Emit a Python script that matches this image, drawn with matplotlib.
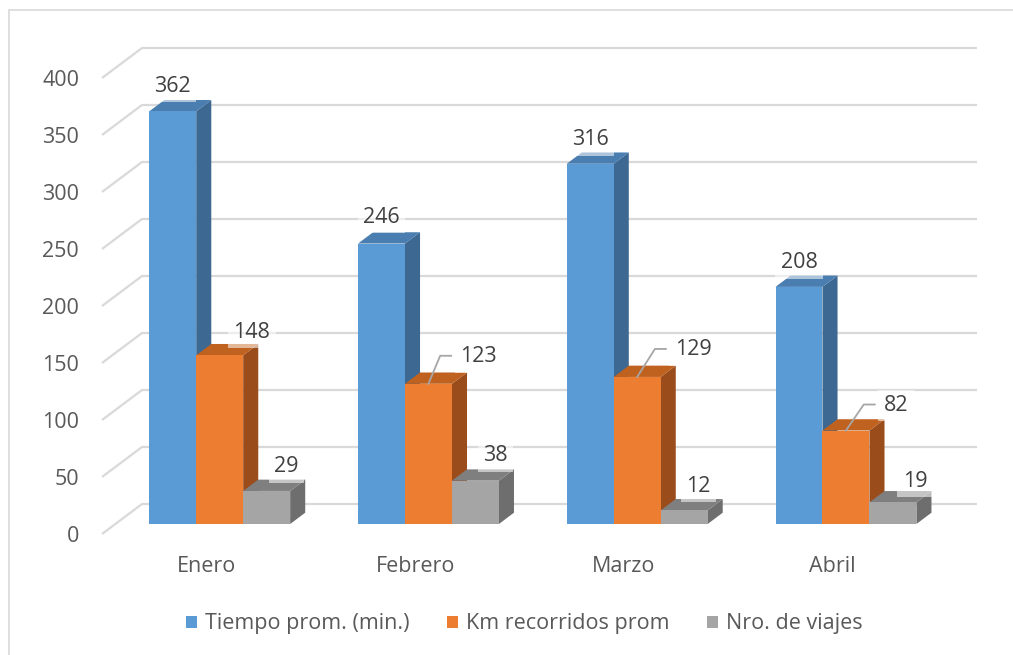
import matplotlib
matplotlib.use("Agg")
import matplotlib.pyplot as plt
from matplotlib.patches import Polygon, Patch, Rectangle

months = ["Enero", "Febrero", "Marzo", "Abril"]
series = ["Tiempo prom. (min.)", "Km recorridos prom", "Nro. de viajes"]
tiempo = [362, 246, 316, 208]
km = [148, 123, 129, 82]
viajes = [29, 38, 12, 19]
y_ticks = [0, 50, 100, 150, 200, 250, 300, 350, 400]

# face colours per series: front, top, side
_COLORS = [("#5B9BD5", "#4A7DB0", "#3C6892"),
           ("#ED7D31", "#C0621F", "#9A4C1B"),
           ("#A5A5A5", "#7F7F7F", "#6E6E6E")]
_GRID, _TXT, _LBL = "#D9D9D9", "#595959", "#404040"

# label offsets in pixels from the front-top centre of each bar (right, down), leader line flag
_LBL_OFF = [[(0, -25, False), (0, -26, False), (0, -24, False), (0, -24, False)],
            [(32, -23, False), (50, -27, True), (56, -27, True), (50, -25, True)],
            [(20, -24, False), (20, -25, False), (14, -24, False), (22, -21, False)]]

plt.rcParams["font.family"] = ["Open Sans", "DejaVu Sans"]
FS = 15.5

FIG_W, FIG_H = 1013, 655
fig = plt.figure(figsize=(FIG_W / 100, FIG_H / 100), dpi=100)
ax = fig.add_axes([102 / FIG_W, 121 / FIG_H, 835 / FIG_W, 456 / FIG_H])
ax.set_xlim(-0.5, 3.5)
ax.set_ylim(0, 400)

# pixels per data unit, to turn the fake 3d depth into data offsets
p0 = ax.transData.transform((0, 0))
sx = ax.transData.transform((1, 0))[0] - p0[0]
sy = ax.transData.transform((0, 1))[1] - p0[1]
DX, DY = 40 / sx, 30 / sy


def proj(x, y, d):
    return x + d * DX, y + d * DY


# back wall gridlines + left floor diagonals
for t in y_ticks:
    pts = [proj(-0.5, t, 0), proj(-0.5, t, 1), proj(3.5, t, 1)]
    ax.plot([p[0] for p in pts], [p[1] for p in pts], color=_GRID, lw=1.6,
            clip_on=False, zorder=1, solid_capstyle="butt")

bw = 0.225
d0, d1 = 1 / 3, 0.71
values = [tiempo, km, viajes]
z = 2.0
for i in range(len(months)):
    for j, vals in enumerate(values):
        v = vals[i]
        xc = i + (j - 1) * bw
        x0, x1 = xc - bw / 2, xc + bw / 2
        front, top, side = _COLORS[j]
        side_poly = [proj(x1, 0, d0), proj(x1, 0, d1), proj(x1, v, d1), proj(x1, v, d0)]
        top_poly = [proj(x0, v, d0), proj(x1, v, d0), proj(x1, v, d1), proj(x0, v, d1)]
        ax.add_patch(Polygon(side_poly, closed=True, fc=side, ec="none", zorder=z, clip_on=False))
        ax.add_patch(Polygon(top_poly, closed=True, fc=top, ec="none", zorder=z + 0.001, clip_on=False))
        ax.bar(xc + d0 * DX, v, bw, bottom=d0 * DY, color=front, edgecolor="none",
               zorder=z + 0.002, clip_on=False)
        z += 0.01

# data labels
for j, vals in enumerate(values):
    for i, v in enumerate(vals):
        xc = i + (j - 1) * bw
        anchor = proj(xc, v, d0)
        dx, dy, leader = _LBL_OFF[j][i]
        ax.annotate(str(v), xy=anchor, xytext=(dx, -dy), textcoords="offset pixels",
                    ha="center", va="center", fontsize=FS, color=_LBL, zorder=10,
                    annotation_clip=False,
                    bbox=dict(boxstyle="square,pad=0.25", fc="white", ec="none", alpha=0.55))
        if leader:
            half = len(str(v)) * 6.1
            ex = dx - half - 9
            xs = [anchor[0], anchor[0] + (ex - 11) / sx, anchor[0] + ex / sx]
            ys = [anchor[1], anchor[1] - (dy - 1) / sy, anchor[1] - (dy - 1) / sy]
            ax.plot(xs, ys, color="#A6A6A6", lw=1.3, zorder=11, clip_on=False)

ax.set_yticks(y_ticks)
ax.set_xticks(range(len(months)), months)
ax.tick_params(axis="y", length=0, pad=16.5, labelsize=FS, labelcolor=_TXT)
ax.tick_params(axis="x", length=0, pad=16, labelsize=FS, labelcolor=_TXT)
for spine in ax.spines.values():
    spine.set_visible(False)
ax.patch.set_alpha(0)

handles = [Patch(facecolor=c[0], edgecolor="none") for c in _COLORS]
fig.legend(handles, series, loc="center", bbox_to_anchor=(524 / FIG_W, 1 - 624 / FIG_H),
           ncol=3, frameon=False, fontsize=FS, handlelength=0.53, handleheight=0.53,
           handletextpad=0.35, columnspacing=1.75, labelcolor=_TXT)

fig.add_artist(Rectangle((9 / FIG_W, -0.05), 1.0, 1.05 - 10 / FIG_H, transform=fig.transFigure,
                         fill=False, ec=_GRID, lw=1.2))

fig.savefig("out.png", dpi=100, facecolor="white")
